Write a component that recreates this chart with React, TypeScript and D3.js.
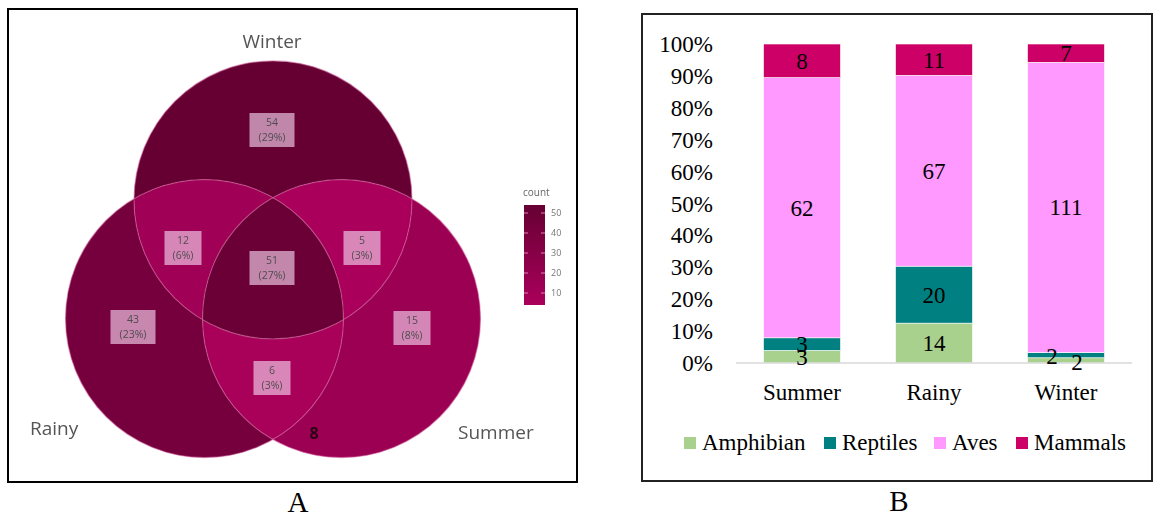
import React from "react";
import * as d3 from "d3";

// Panel B: species counts per taxon and season
const seasons = ["Summer", "Rainy", "Winter"];
const taxa = ["Amphibian", "Reptiles", "Aves", "Mammals"];
const amphibian = [3, 14, 2];
const reptiles = [3, 20, 2];
const aves = [62, 67, 111];
const mammals = [8, 11, 7];
const percentTicks = [0, 10, 20, 30, 40, 50, 60, 70, 80, 90, 100];
const taxaColors = ["#a9d18e", "#008080", "#ff99ff", "#cc0066"];

// Panel A: species shared between seasons (membership order: Winter, Rainy, Summer)
const vennSets = ["Winter", "Rainy", "Summer"];
const vennMembership = [
  [1, 0, 0],
  [0, 1, 0],
  [0, 0, 1],
  [1, 1, 0],
  [1, 0, 1],
  [0, 1, 1],
  [1, 1, 1],
];
const vennCounts = [54, 43, 15, 12, 5, 6, 51];
const countTicks = [10, 20, 30, 40, 50];

const SERIF = "'Liberation Serif', 'Times New Roman', serif";
const SANS = "'Open Sans', 'Noto Sans', sans-serif";

function VennPanel() {
  // circle layout: three equal circles on an equilateral triangle
  const O = { x: 273, y: 279 };
  const side = 137;
  const r = 139;
  const circles = [
    { x: O.x, y: O.y - side / Math.sqrt(3) },
    { x: O.x - side / 2, y: O.y + side / (2 * Math.sqrt(3)) },
    { x: O.x + side / 2, y: O.y + side / (2 * Math.sqrt(3)) },
  ];
  // label anchors for each region, relative to the diagram centre
  const labelOffsets = [
    [-1, -149],
    [-140, 48],
    [139, 49],
    [-90, -31],
    [89, -31],
    [-1, 99],
    [-1, -11],
  ];

  const total = d3.sum(vennCounts);
  const [cMin, cMax] = d3.extent(vennCounts) as [number, number];
  const color = d3
    .scaleLinear<string>()
    .domain([cMin, cMax])
    .range(["#aa005b", "#660033"])
    .interpolate(d3.interpolateRgb);

  const barScale = d3.scaleLinear().domain([cMin, cMax]).range([303, 205]);

  const region = (mem: number[], fill: string) => {
    let node: React.ReactNode = <rect x={0} y={0} width={600} height={500} fill={fill} />;
    mem.forEach((m, i) => {
      node =
        m === 1 ? (
          <g clipPath={`url(#vc-${i})`}>{node}</g>
        ) : (
          <g mask={`url(#vm-${i})`}>{node}</g>
        );
    });
    return node;
  };

  return (
    <g>
      <defs>
        {circles.map((c, i) => (
          <clipPath id={`vc-${i}`} key={`c${i}`}>
            <circle cx={c.x} cy={c.y} r={r} />
          </clipPath>
        ))}
        {circles.map((c, i) => (
          <mask id={`vm-${i}`} key={`m${i}`} maskUnits="userSpaceOnUse" x={0} y={0} width={600} height={500}>
            <rect x={0} y={0} width={600} height={500} fill="white" />
            <circle cx={c.x} cy={c.y} r={r} fill="black" />
          </mask>
        ))}
        <linearGradient id="countGrad" x1="0" y1="0" x2="0" y2="1">
          <stop offset="0%" stopColor={color(cMax)} />
          <stop offset="100%" stopColor={color(cMin)} />
        </linearGradient>
        <filter id="soft" x="-5%" y="-5%" width="110%" height="110%">
          <feGaussianBlur stdDeviation="0.55" />
        </filter>
      </defs>

      <g filter="url(#soft)">
        {vennMembership.map((mem, i) => (
          <g key={i}>{region(mem, color(vennCounts[i]))}</g>
        ))}
        {circles.map((c, i) => (
          <circle
            key={i}
            cx={c.x}
            cy={c.y}
            r={r}
            fill="none"
            stroke="#d0609a"
            strokeOpacity={0.55}
            strokeWidth={1.2}
          />
        ))}

        {vennMembership.map((_, i) => {
          const px = O.x + labelOffsets[i][0];
          const py = O.y + labelOffsets[i][1];
          const pct = `(${Math.round((vennCounts[i] / total) * 100)}%)`;
          const w = pct.length * 8 + 5;
          return (
            <g key={i} transform={`translate(${px},${py})`}>
              <rect x={-w / 2} y={-17} width={w} height={34} fill="#f3d0ec" fillOpacity={0.65} />
              <text y={-4} textAnchor="middle" fontFamily={SANS} fontSize={10.5} fill="#4d4d4d">
                {vennCounts[i]}
              </text>
              <text y={11} textAnchor="middle" fontFamily={SANS} fontSize={10.5} fill="#4d4d4d">
                {pct}
              </text>
            </g>
          );
        })}

        <text x={272} y={48} textAnchor="middle" fontFamily={SANS} fontSize={19} fill="#555">
          {vennSets[0]}
        </text>
        <text x={30} y={435} fontFamily={SANS} fontSize={19} fill="#555">
          {vennSets[1]}
        </text>
        <text x={458} y={439} fontFamily={SANS} fontSize={19} fill="#555">
          {vennSets[2]}
        </text>
        <text x={314} y={439} textAnchor="middle" fontFamily={SANS} fontSize={16} fontWeight="bold" fill="#2a0515">
          8
        </text>

        {/* count colour bar */}
        <text x={523} y={196} fontFamily={SANS} fontSize={10} fill="#666">
          count
        </text>
        <rect x={524} y={barScale(cMax)} width={21} height={barScale(cMin) - barScale(cMax) + 2} fill="url(#countGrad)" />
        {countTicks.map((t) => (
          <g key={t}>
            <line x1={524} x2={528} y1={barScale(t)} y2={barScale(t)} stroke="#e080b0" strokeWidth={1} />
            <line x1={541} x2={545} y1={barScale(t)} y2={barScale(t)} stroke="#e080b0" strokeWidth={1} />
            <text x={551} y={barScale(t)} dy="0.35em" fontFamily={SANS} fontSize={9} fill="#777">
              {t}
            </text>
          </g>
        ))}
      </g>

      <rect x={8} y={9} width={569} height={473} fill="none" stroke="#000" strokeWidth={2} />
      <text x={298} y={512} textAnchor="middle" fontFamily={SERIF} fontSize={29} fill="#000">
        A
      </text>
    </g>
  );
}

function BarPanel() {
  const rows = seasons.map((s, i) => ({
    season: s,
    Amphibian: amphibian[i],
    Reptiles: reptiles[i],
    Aves: aves[i],
    Mammals: mammals[i],
  }));
  const series = d3
    .stack<any>()
    .keys(taxa)
    .offset(d3.stackOffsetExpand)(rows);

  const x = d3
    .scaleBand<string>()
    .domain(seasons)
    .range([736, 1132])
    .paddingInner(0.417)
    .paddingOuter(0.2085);
  const y = d3.scaleLinear().domain([0, 1]).range([363, 44]);

  // small label nudges where thin segments would make labels collide
  const nudge = (taxon: string, season: string) => {
    if (season === "Winter" && taxon === "Reptiles") return { dx: -14, dy: 1 };
    if (season === "Winter" && taxon === "Amphibian") return { dx: 11, dy: 1.5 };
    return { dx: 0, dy: 0 };
  };

  const legendX = [684, 824, 934, 1016];

  return (
    <g>
      <rect x={642} y={14} width={510} height={467} fill="none" stroke="#222" strokeWidth={2} />

      {percentTicks.map((t) => (
        <text
          key={t}
          x={713}
          y={y(t / 100)}
          dy="0.35em"
          textAnchor="end"
          fontFamily={SERIF}
          fontSize={23}
          fill="#000"
        >
          {t}%
        </text>
      ))}

      {series.map((s, si) =>
        s.map((d, di) => (
          <rect
            key={`${si}-${di}`}
            x={x(seasons[di])}
            y={y(d[1])}
            width={x.bandwidth()}
            height={y(d[0]) - y(d[1])}
            fill={taxaColors[si]}
            stroke="#ffffff"
            strokeWidth={0.6}
          />
        ))
      )}

      <line x1={736} x2={1132} y1={y(0)} y2={y(0)} stroke="#d9d9d9" strokeWidth={1.5} />

      {series.map((s, si) =>
        s.map((d, di) => {
          const season = seasons[di];
          const n = nudge(taxa[si], season);
          return (
            <text
              key={`l${si}-${di}`}
              x={(x(season) as number) + x.bandwidth() / 2 + n.dx}
              y={(y(d[0]) + y(d[1])) / 2 + n.dy}
              dy="0.35em"
              textAnchor="middle"
              fontFamily={SERIF}
              fontSize={23}
              fill="#000"
            >
              {(d.data as any)[taxa[si]]}
            </text>
          );
        })
      )}

      {seasons.map((s) => (
        <text
          key={s}
          x={(x(s) as number) + x.bandwidth() / 2}
          y={400}
          textAnchor="middle"
          fontFamily={SERIF}
          fontSize={23}
          fill="#000"
        >
          {s}
        </text>
      ))}

      {taxa.map((t, i) => (
        <g key={t} transform={`translate(${legendX[i]},0)`}>
          <rect x={0} y={437} width={12} height={12} fill={taxaColors[i]} />
          <text x={18} y={450} fontFamily={SERIF} fontSize={23} fill="#000">
            {t}
          </text>
        </g>
      ))}

      <text x={899} y={511} textAnchor="middle" fontFamily={SERIF} fontSize={29} fill="#000">
        B
      </text>
    </g>
  );
}

export default function App() {
  return (
    <svg
      width={1153}
      height={518}
      viewBox="0 0 1153 518"
      style={{ position: "absolute", left: 0, top: 0, background: "#fff" }}
    >
      <rect x={0} y={0} width={1153} height={518} fill="#fff" />
      <VennPanel />
      <BarPanel />
    </svg>
  );
}
